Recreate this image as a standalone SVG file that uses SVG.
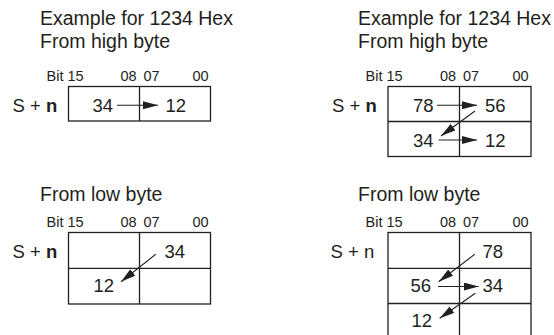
<svg xmlns="http://www.w3.org/2000/svg" width="554" height="335" viewBox="0 0 554 335">
<style>
text{font-family:"Liberation Sans",Arial,Helvetica,sans-serif;fill:#231f20}
.t{font-size:19.5px}
.b{font-size:14.5px}
.v{font-size:18.5px}
.box{fill:none;stroke:#231f20;stroke-width:1.3}
.c{stroke:#231f20;stroke-width:1.1;fill:none;marker-end:url(#ah)}
</style>
<defs>
<marker id="ah" markerUnits="userSpaceOnUse" markerWidth="16" markerHeight="9" refX="15" refY="4" orient="auto">
<path d="M0,0 L15,4 L0,8 z" fill="#231f20"/>
</marker>
</defs>
<rect width="554" height="335" fill="#fff"/>

<g id="panel-high-1">
<text class="t" x="40" y="25">Example for 1234 Hex</text>
<text class="t" x="40" y="48">From high byte</text>
<text class="b" x="46.5" y="81">Bit 15</text>
<text class="b" x="120.5" y="81">08</text>
<text class="b" x="143.5" y="81">07</text>
<text class="b" x="192.5" y="81">00</text>
<text class="v" x="12.5" y="111.5">S + <tspan font-weight="bold">n</tspan></text>
<g id="p1-word">
<rect class="box" x="68.5" y="86.5" width="142" height="34.5"/>
<line class="box" x1="139.5" y1="86.5" x2="139.5" y2="121"/>
</g>
<text class="v" x="92.5" y="111.5">34</text>
<text class="v" x="165.5" y="111.5">12</text>
</g>

<g id="panel-high-2">
<text class="t" x="358" y="25">Example for 1234 Hex</text>
<text class="t" x="358" y="48">From high byte</text>
<text class="b" x="365.5" y="81">Bit 15</text>
<text class="b" x="440" y="81">08</text>
<text class="b" x="463" y="81">07</text>
<text class="b" x="512.5" y="81">00</text>
<text class="v" x="332" y="111.5">S + <tspan font-weight="bold">n</tspan></text>
<g id="p2-words">
<rect class="box" x="388" y="86.5" width="143" height="70"/>
<line class="box" x1="388" y1="121.5" x2="531" y2="121.5"/>
<line class="box" x1="459.5" y1="86.5" x2="459.5" y2="156.5"/>
</g>
<text class="v" x="413" y="111.5">78</text>
<text class="v" x="485" y="111.5">56</text>
<text class="v" x="413" y="146.5">34</text>
<text class="v" x="485" y="146.5">12</text>
</g>

<g id="panel-low-1">
<text class="t" x="40" y="200.5">From low byte</text>
<text class="b" x="46.5" y="226.5">Bit 15</text>
<text class="b" x="120.5" y="226.5">08</text>
<text class="b" x="143.5" y="226.5">07</text>
<text class="b" x="192.5" y="226.5">00</text>
<text class="v" x="12.5" y="258">S + <tspan font-weight="bold">n</tspan></text>
<g id="p3-words">
<rect class="box" x="68.5" y="232.5" width="142" height="71.5"/>
<line class="box" x1="68.5" y1="268.3" x2="210.5" y2="268.3"/>
<line class="box" x1="139.5" y1="232.5" x2="139.5" y2="304"/>
</g>
<text class="v" x="164.5" y="257.5">34</text>
<text class="v" x="93.5" y="292.3">12</text>
</g>

<g id="panel-low-2">
<text class="t" x="358" y="200.5">From low byte</text>
<text class="b" x="365.5" y="226.5">Bit 15</text>
<text class="b" x="440" y="226.5">08</text>
<text class="b" x="463" y="226.5">07</text>
<text class="b" x="512.5" y="226.5">00</text>
<text class="v" x="330.5" y="258">S + n</text>
<g id="p4-words">
<rect class="box" x="388" y="232.5" width="143" height="106"/>
<line class="box" x1="388" y1="268.3" x2="531" y2="268.3"/>
<line class="box" x1="388" y1="303.5" x2="531" y2="303.5"/>
<line class="box" x1="459.5" y1="232.5" x2="459.5" y2="338.5"/>
</g>
<text class="v" x="482.5" y="257.5">78</text>
<text class="v" x="410.5" y="292.3">56</text>
<text class="v" x="482.5" y="292.3">34</text>
<text class="v" x="411.5" y="326.7">12</text>
</g>

<g id="connectors">
<line class="c" x1="117" y1="105.3" x2="158" y2="105.3"/>
<line class="c" x1="437" y1="105.3" x2="477" y2="105.3"/>
<line class="c" x1="475" y1="111" x2="441" y2="136"/>
<line class="c" x1="438.5" y1="140" x2="477" y2="140"/>
<line class="c" x1="155.7" y1="254.3" x2="121" y2="281.7"/>
<line class="c" x1="474.7" y1="254.3" x2="438.7" y2="281.7"/>
<line class="c" x1="438" y1="286.5" x2="478.7" y2="286.5"/>
<line class="c" x1="475.3" y1="293.3" x2="439.7" y2="318.3"/>
</g>
</svg>
